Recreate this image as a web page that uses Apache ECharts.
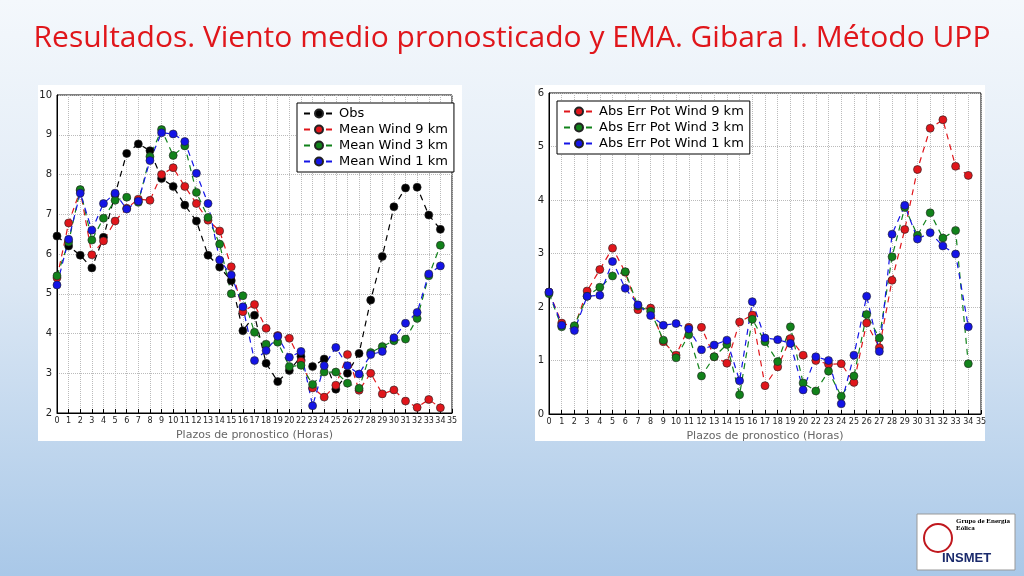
<!DOCTYPE html>
<html>
<head>
<meta charset="utf-8">
<script src="https://cdn.jsdelivr.net/npm/echarts@6/dist/echarts.min.js"></script>
<style>
html,body{margin:0;padding:0;}
#main{width:1024px;height:576px;}
</style>
</head>
<body>
<div id="main"></div>
<script>
// x labels (21 is missing in the original axis)
var hours = ['0','1','2','3','4','5','6','7','8','9','10','11','12','13','14','15','16','17','18','19','20',
  '22','23','24','25','26','27','28','29','30','31','32','33','34','35'];

// left chart: mean wind
var obs = [6.45,6.2,5.97,5.65,6.42,7.5,8.53,8.77,8.6,7.9,7.7,7.23,6.83,5.97,5.67,5.33,4.07,4.46,3.25,2.79,3.07,3.42,3.17,3.36,2.6,3.0,3.5,4.84,5.94,7.19,7.66,7.68,6.98,6.62];
var wind9 = [5.4,6.78,7.6,5.98,6.33,6.83,7.15,7.38,7.35,8.0,8.17,7.7,7.27,6.85,6.58,5.68,4.55,4.73,4.13,3.95,3.88,3.3,2.63,2.4,2.7,3.47,2.57,3.0,2.48,2.58,2.3,2.14,2.34,2.13];
var wind3 = [5.45,6.3,7.62,6.35,6.9,7.35,7.43,7.3,8.45,9.13,8.48,8.72,7.55,6.92,6.25,5.0,4.95,4.03,3.73,3.78,3.17,3.2,2.72,3.03,3.03,2.75,2.62,3.52,3.67,3.82,3.86,4.38,5.45,6.22];
var wind1 = [5.22,6.37,7.53,6.6,7.27,7.53,7.13,7.33,8.35,9.05,9.02,8.83,8.03,7.27,5.85,5.47,4.67,3.32,3.57,3.93,3.4,3.55,2.18,3.19,3.65,3.19,2.98,3.47,3.55,3.89,4.26,4.53,5.5,5.7];

// right chart: abs error
var err9 = [2.28,1.7,1.63,2.3,2.7,3.1,2.65,1.95,1.98,1.35,1.1,1.62,1.62,1.07,0.95,1.72,1.85,0.53,0.88,1.41,1.1,1.0,0.93,0.94,0.59,1.7,1.24,2.5,3.45,4.57,5.34,5.5,4.63,4.46];
var err3 = [2.25,1.63,1.65,2.2,2.37,2.58,2.66,2.02,1.92,1.38,1.05,1.48,0.71,1.07,1.3,0.36,1.77,1.35,0.98,1.63,0.58,0.43,0.8,0.33,0.71,1.86,1.42,2.94,3.86,3.34,3.76,3.29,3.43,0.94];
var err1 = [2.28,1.66,1.56,2.2,2.22,2.85,2.35,2.04,1.84,1.66,1.69,1.59,1.2,1.29,1.38,0.62,2.1,1.42,1.39,1.32,0.45,1.07,1.0,0.19,1.1,2.2,1.17,3.36,3.9,3.27,3.39,3.14,2.99,1.63];

var colors = {k:'#000000', r:'#e0161b', g:'#11821a', b:'#1414e6'};

function line(name, data, c, gi){
  return {
    name: name, type: 'line', data: data, xAxisIndex: gi, yAxisIndex: gi,
    symbol: 'circle', symbolSize: 8,
    itemStyle: {color: c, borderColor: '#222', borderWidth: 0.6},
    lineStyle: {color: c, width: 1.2, type: [6, 5]},
    animation: false
  };
}

function xAx(gi){
  return {
    gridIndex: gi, type: 'category', data: hours, boundaryGap: false,
    axisLine: {lineStyle: {color: '#000'}}, axisTick: {inside: true, length: 4, lineStyle: {color: '#000'}},
    axisLabel: {fontSize: 8, color: '#222', margin: 4, interval: 0},
    splitLine: {show: true, lineStyle: {color: '#bbb', type: 'dotted'}},
    name: 'Plazos de pronostico (Horas)', nameLocation: 'middle', nameGap: 17,
    nameTextStyle: {fontSize: 11, color: '#666'}
  };
}
function yAx(gi, min, max){
  return {
    gridIndex: gi, type: 'value', min: min, max: max, interval: 1,
    axisLine: {show: true, lineStyle: {color: '#000'}}, axisTick: {inside: true, length: 4},
    axisLabel: {fontSize: 10, color: '#222', margin: 5},
    splitLine: {show: true, lineStyle: {color: '#bbb', type: 'dotted'}}
  };
}

var chart = echarts.init(document.getElementById('main'));
chart.setOption({
  backgroundColor: new echarts.graphic.LinearGradient(0, 0, 0, 1, [
    {offset: 0, color: '#f4f8fc'}, {offset: 0.5, color: '#dbe7f4'}, {offset: 1, color: '#a9c8e8'}]),
  textStyle: {fontFamily: 'DejaVu Sans'},
  title: {
    text: 'Resultados. Viento medio pronosticado y EMA. Gibara I. Método UPP',
    left: 'center', top: 18,
    textStyle: {color: '#e0161b', fontSize: 30, fontWeight: 'normal', fontFamily: 'Open Sans'}
  },
  graphic: [
    {type: 'rect', shape: {x: 38, y: 85, width: 424, height: 356}, style: {fill: '#fff'}, z: -1},
    {type: 'rect', shape: {x: 535, y: 85, width: 450, height: 356}, style: {fill: '#fff'}, z: -1},
    {type: 'rect', shape: {x: 917, y: 514, width: 98, height: 56}, style: {fill: '#fff', stroke: '#999'}},
    {type: 'text', left: 956, top: 518, style: {text: 'Grupo de Energía\nEólica', fontSize: 7, fontWeight: 'bold', fill: '#000', fontFamily: 'Liberation Serif'}},
    {type: 'text', left: 942, top: 552, style: {text: 'INSMET', fontSize: 13, fontWeight: 'bold', fill: '#1a2a6c'}},
    {type: 'circle', shape: {cx: 938, cy: 538, r: 14}, style: {fill: 'none', stroke: '#c0181e', lineWidth: 2}}
  ],
  grid: [
    {left: 57, top: 95, width: 395, height: 318, show: true, borderColor: '#000', borderWidth: 1},
    {left: 549, top: 93, width: 432, height: 321, show: true, borderColor: '#000', borderWidth: 1}
  ],
  legend: [
    {data: ['Obs','Mean Wind 9 km','Mean Wind 3 km','Mean Wind 1 km'], orient: 'vertical',
     left: 297, top: 103, itemGap: 3, itemWidth: 30, itemHeight: 10, padding: [4, 6],
     borderColor: '#000', borderWidth: 1, backgroundColor: '#fff', textStyle: {fontSize: 13, color: '#000'}},
    {data: ['Abs Err Pot Wind 9 km','Abs Err Pot Wind 3 km','Abs Err Pot Wind 1 km'], orient: 'vertical',
     left: 557, top: 101, itemGap: 3, itemWidth: 30, itemHeight: 10, padding: [4, 6],
     borderColor: '#000', borderWidth: 1, backgroundColor: '#fff', textStyle: {fontSize: 13, color: '#000'}}
  ],
  xAxis: [xAx(0), xAx(1)],
  yAxis: [yAx(0, 2, 10), yAx(1, 0, 6)],
  series: [
    line('Obs', obs, colors.k, 0),
    line('Mean Wind 9 km', wind9, colors.r, 0),
    line('Mean Wind 3 km', wind3, colors.g, 0),
    line('Mean Wind 1 km', wind1, colors.b, 0),
    line('Abs Err Pot Wind 9 km', err9, colors.r, 1),
    line('Abs Err Pot Wind 3 km', err3, colors.g, 1),
    line('Abs Err Pot Wind 1 km', err1, colors.b, 1)
  ]
});
</script>
</body>
</html>
